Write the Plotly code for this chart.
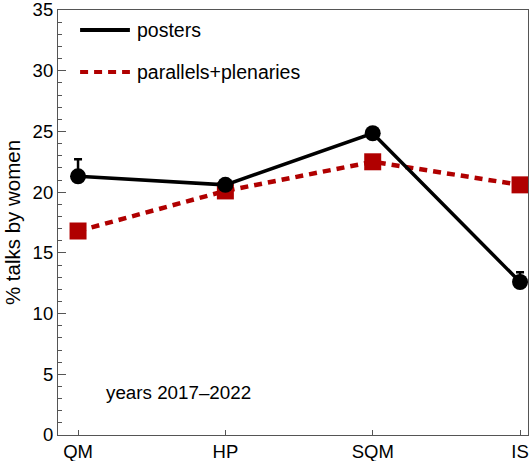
import plotly.graph_objects as go

categories = ["QM", "HP", "SQM", "IS"]
posters = [21.3, 20.6, 24.85, 12.6]
posters_err_plus = [1.4, 0.0, 0.0, 0.8]
parallels = [16.8, 20.1, 22.5, 20.6]
parallels_err = [0.0, 0.0, 0.5, 0.5]

red = "#b00000"
font = "Liberation Sans, Arial, sans-serif"

fig = go.Figure()
fig.add_trace(go.Scatter(
    x=categories, y=parallels, mode="lines+markers", name="parallels+plenaries",
    line=dict(color=red, width=4.5, dash="8px,6px"),
    marker=dict(symbol="square", size=17, color=red),
    error_y=dict(type="data", array=parallels_err, color=red, thickness=3, width=5),
    cliponaxis=False,
))
fig.add_trace(go.Scatter(
    x=categories, y=posters, mode="lines+markers", name="posters",
    line=dict(color="black", width=3.5),
    marker=dict(symbol="circle", size=16, color="black"),
    error_y=dict(type="data", array=posters_err_plus, arrayminus=[0, 0, 0, 0],
                 color="black", thickness=2.5, width=4),
    cliponaxis=False,
))

# manual legend
legend_items = [("posters", "black", "solid", 0.953), ("parallels+plenaries", red, "8px,6px", 0.854)]
for label, col, dash, yy in legend_items:
    fig.add_shape(type="line", xref="paper", yref="paper", x0=0.047, x1=0.153, y0=yy, y1=yy,
                  line=dict(color=col, width=4, dash=dash))
    fig.add_annotation(text=label, xref="paper", yref="paper", x=0.163, y=yy,
                       xanchor="left", yanchor="middle", showarrow=False,
                       font=dict(size=19.5, color="black", family=font))

fig.add_annotation(text="years 2017\u20132022", xref="paper", yref="paper", x=0.098, y=0.101,
                   xanchor="left", yanchor="middle", showarrow=False,
                   font=dict(size=18.8, color="black", family=font))

fig.update_layout(
    width=530, height=461,
    margin=dict(l=58, r=2, t=10, b=26),
    paper_bgcolor="white", plot_bgcolor="white",
    showlegend=False,
    font=dict(family=font, size=18.5, color="black"),
    xaxis=dict(type="category", range=[-0.136, 3.054], showgrid=False, zeroline=False,
               showline=True, linecolor="#555", linewidth=1.2, mirror=True,
               ticks="inside", ticklen=5, tickcolor="#555", automargin=False,
               ticklabeloverflow="allow",
               tickfont=dict(size=18.5)),
    yaxis=dict(range=[0, 35], dtick=5, showgrid=False, zeroline=False,
               showline=True, linecolor="#555", linewidth=1.2, mirror=True,
               ticks="inside", ticklen=8, tickcolor="#555", automargin=False,
               ticklabeloverflow="allow",
               minor=dict(dtick=1, ticks="inside", ticklen=4, tickcolor="#555"),
               tickfont=dict(size=18.5),
               title=dict(text="% talks by women", font=dict(size=20.5), standoff=6)),
)

fig.write_html("out.html", config={"displayModeBar": False},
               post_script="document.body.style.margin='0';document.body.style.overflow='hidden';")
